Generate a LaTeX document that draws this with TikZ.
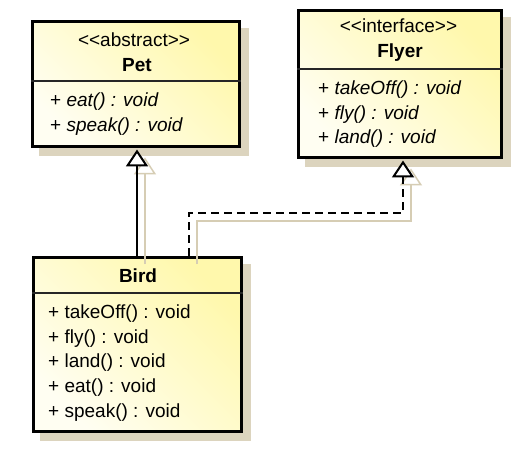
\documentclass[tikz,border=0pt]{standalone}
\usepackage{fontspec}
\setmainfont{Liberation Sans}
\usetikzlibrary{arrows.meta}
\definecolor{boxshadow}{HTML}{DCD4BE}
\definecolor{fillA}{HTML}{FFFEF2}
\definecolor{fillB}{HTML}{FFF8AC}
\definecolor{lineshadow}{HTML}{D6CDB4}
\begin{document}
\begin{tikzpicture}[x=1pt,y=-1pt,
  umlbox/.style={draw=black, line width=3pt, left color=fillA, right color=fillB, shading angle=135, inner sep=0pt},
  shadowbox/.style={fill=boxshadow, draw=none, inner sep=0pt},
  divider/.style={draw=black!85, line width=1.4pt},
  txt/.style={inner sep=0pt, anchor=base west, font=\fontsize{19}{22}\selectfont},
  ttl/.style={inner sep=0pt, anchor=base, font=\fontsize{19}{22}\selectfont},
  btitle/.style={inner sep=0pt, anchor=base, font=\fontsize{19}{22}\selectfont\bfseries},
  gen/.style={draw=black, line width=2pt, -{Triangle[fill=white, length=17pt, width=22pt]}, shorten >=1.5pt},
  real/.style={draw=black, line width=2pt, dash pattern=on 8pt off 5pt, -{Triangle[fill=white, length=17pt, width=22pt]}, shorten >=1.5pt},
  shd/.style={draw=lineshadow, line width=1.5pt, -{Triangle[fill=white, length=17pt, width=22pt]}, shorten >=1.5pt, transform canvas={xshift=8pt,yshift=-8pt}}
]
\path[fill=white] (0,0) rectangle (528,468);
\useasboundingbox (0,0) rectangle (528,468);

% box shadows
\node[shadowbox, minimum width=210pt, minimum height=128pt] (petS) at (144,92) {};
\node[shadowbox, minimum width=206pt, minimum height=150pt] (flyerS) at (408,92) {};
\node[shadowbox, minimum width=211pt, minimum height=177pt] (birdS) at (145.5,352.5) {};

% boxes
\node[umlbox, minimum width=207pt, minimum height=125pt] (pet) at (136,84) {};
\node[umlbox, minimum width=203pt, minimum height=147pt] (flyer) at (400,84) {};
\node[umlbox, minimum width=208pt, minimum height=174pt] (bird) at (137.5,344.5) {};

\coordinate (pd) at (0,81);
\coordinate (fd) at (0,69);
\coordinate (bd) at (0,293);
\draw[divider] (pet.west |- pd) -- (pet.east |- pd);
\draw[divider] (flyer.west |- fd) -- (flyer.east |- fd);
\draw[divider] (bird.west |- bd) -- (bird.east |- bd);

% Pet texts
\node[ttl] (petst) at (134,46.5) {<{}<abstract>{}>};
\node[btitle] (petn) at (137,71.5) {Pet};
\node[txt] (pm1) at (50,106.5) {+ \textit{eat() : void}};
\node[txt] (pm2) at (50,131.5) {+ \textit{speak() : void}};

% Flyer texts
\node[ttl] (flst) at (398.5,33) {<{}<interface>{}>};
\node[btitle] (fln) at (400,57.5) {Flyer};
\node[txt] (fm1) at (318,95) {+ \textit{takeOff() : void}};
\node[txt] (fm2) at (318,119.5) {+ \textit{fly() : void}};
\node[txt] (fm3) at (318,144) {+ \textit{land() : void}};

% Bird texts
\node[btitle] (bn) at (138,283) {Bird};
\node[txt] (bm1) at (48,318) {+ takeOff() : void};
\node[txt] (bm2) at (48,343) {+ fly() : void};
\node[txt] (bm3) at (48,367.5) {+ land() : void};
\node[txt] (bm4) at (48,392) {+ eat() : void};
\node[txt] (bm5) at (48,417) {+ speak() : void};

% connectors
\coordinate (ix) at (137,0);
\coordinate (r1) at (189,213);
\coordinate (r2) at (403,0);
\draw[shd] (bird.north -| ix) -- (pet.south -| ix);
\draw[shd] (bird.north -| r1) -- (r1) -- (r1 -| r2) -- (flyer.south -| r2);
\draw[gen] (bird.north -| ix) -- (pet.south -| ix);
\draw[real] (bird.north -| r1) -- (r1) -- (r1 -| r2) -- (flyer.south -| r2);
\end{tikzpicture}
\end{document}
